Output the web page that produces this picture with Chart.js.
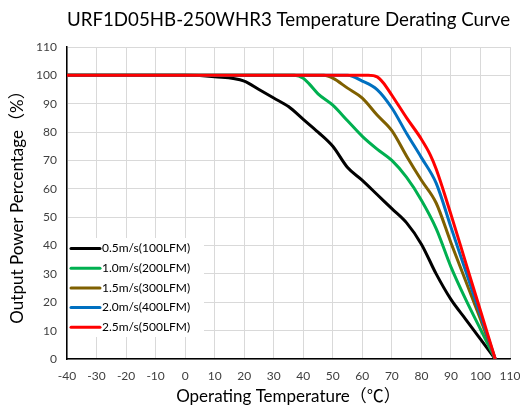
<!DOCTYPE html>
<html>
<head>
<meta charset="utf-8">
<script src="https://cdn.jsdelivr.net/npm/chart.js@4.4.0/dist/chart.umd.min.js"></script>
<style>
  html, body { margin: 0; padding: 0; background: #fff; }
</style>
</head>
<body>
<canvas id="derating" width="520" height="408"></canvas>
<script>
// Airflow series
const seriesLabels = ['0.5m/s(100LFM)', '1.0m/s(200LFM)', '1.5m/s(300LFM)', '2.0m/s(400LFM)', '2.5m/s(500LFM)'];
const seriesColors = ['#000000', '#00b050', '#7f6000', '#0070c0', '#ff0000'];

const temp05  = [-40, 0, 10, 20, 25, 30, 35, 40, 45, 50, 55, 60, 65, 70, 75, 80, 85, 90, 95, 100, 105];
const power05 = [100, 100, 99.5, 98, 95, 92, 89, 84.5, 80, 75, 67.5, 63, 58, 53, 48, 40.5, 30, 21, 14, 7, 0];

const temp10  = [-40, 37, 40, 42, 45, 50, 55, 60, 65, 70, 75, 80, 85, 90, 95, 100, 105];
const power10 = [100, 100, 99, 97, 93.5, 89.5, 84, 78.5, 74, 70, 64, 56, 46, 32.5, 21, 10.5, 0];

const temp15  = [-40, 47, 50, 55, 60, 65, 70, 75, 80, 85, 90, 95, 100, 105];
const power15 = [100, 100, 99, 95.5, 92, 86, 80.5, 71.5, 63, 55, 41, 27.5, 14, 0];

const temp20  = [-40, 55, 60, 65, 70, 75, 80, 85, 90, 95, 100, 105];
const power20 = [100, 100, 98, 95, 88.5, 79.5, 71, 62, 46.5, 31, 15.5, 0];

const temp25  = [-40, 62, 65, 67, 70, 75, 80, 83, 85, 90, 95, 100, 105];
const power25 = [100, 100, 99.5, 97.5, 93, 85, 77.5, 72, 67, 51, 34, 17, 0];

const seriesTemps  = [temp05, temp10, temp15, temp20, temp25];
const seriesPowers = [power05, power10, power15, power20, power25];

const FONT = 'Lato, "Noto Sans CJK SC", sans-serif';

// legend sits inside the plot, lower left, on a white patch
const legendBox = {
  id: 'legendBox',
  afterDatasetsDraw(chart) {
    const { ctx, chartArea } = chart;
    const rowH = 19.7;
    const x0 = chartArea.left + 1;
    const top = chartArea.bottom - 121;
    ctx.save();
    ctx.fillStyle = '#ffffff';
    ctx.fillRect(x0, top, 136, 99);
    ctx.font = '12px ' + FONT;
    ctx.textBaseline = 'middle';
    ctx.lineCap = 'round';
    chart.data.datasets.forEach((ds, i) => {
      const y = top + 10.5 + i * rowH;
      ctx.strokeStyle = ds.borderColor;
      ctx.lineWidth = 3;
      ctx.beginPath();
      ctx.moveTo(x0 + 3, y);
      ctx.lineTo(x0 + 32, y);
      ctx.stroke();
      ctx.fillStyle = '#000000';
      ctx.fillText(ds.label, x0 + 34, y);
    });
    ctx.restore();
  }
};

const datasets = seriesLabels.map((label, i) => ({
  label: label,
  data: seriesTemps[i].map((t, j) => ({ x: t, y: seriesPowers[i][j] })),
  borderColor: seriesColors[i],
  backgroundColor: seriesColors[i],
  borderWidth: 3,
  pointRadius: 0,
  cubicInterpolationMode: 'monotone',
  fill: false,
  order: seriesLabels.length - 1 - i
}));

new Chart(document.getElementById('derating'), {
  type: 'line',
  data: { datasets: datasets },
  plugins: [legendBox],
  options: {
    responsive: false,
    animation: false,
    devicePixelRatio: 1,
    layout: { padding: { left: 0, right: 2.5, top: 0, bottom: 0 } },
    plugins: {
      legend: { display: false },
      tooltip: { enabled: false },
      title: {
        display: true,
        fullSize: false,
        text: 'URF1D05HB-250WHR3 Temperature Derating Curve',
        color: '#000000',
        font: { family: FONT, size: 20, weight: 'normal' },
        padding: { top: 8, bottom: 15 }
      }
    },
    scales: {
      x: {
        type: 'linear',
        min: -40,
        max: 110,
        afterFit: function(scale) {
          scale.height = 49;
          scale.paddingLeft = 0;
          scale.paddingRight = 10;
        },
        ticks: {
          stepSize: 10,
          padding: 10,
          color: '#404040',
          font: { family: FONT, size: 12 },
          maxRotation: 0
        },
        grid: { color: '#d9d9d9', lineWidth: 1, drawTicks: false },
        border: { color: '#000000', width: 1.5 },
        title: {
          display: true,
          text: 'Operating Temperature（℃）',
          color: '#000000',
          font: { family: FONT, size: 17 },
          padding: { top: 0, bottom: 1.5 }
        }
      },
      y: {
        min: 0,
        max: 110,
        afterFit: function(scale) { scale.width = 67; },
        ticks: {
          stepSize: 10,
          padding: 10,
          color: '#404040',
          font: { family: FONT, size: 12 }
        },
        grid: { color: '#d9d9d9', lineWidth: 1, drawTicks: false },
        border: { color: '#000000', width: 1.5 },
        title: {
          display: true,
          text: 'Output Power Percentage（%）',
          color: '#000000',
          font: { family: FONT, size: 17 },
          padding: { top: 7.5, bottom: 0 }
        }
      }
    }
  }
});
</script>
</body>
</html>
